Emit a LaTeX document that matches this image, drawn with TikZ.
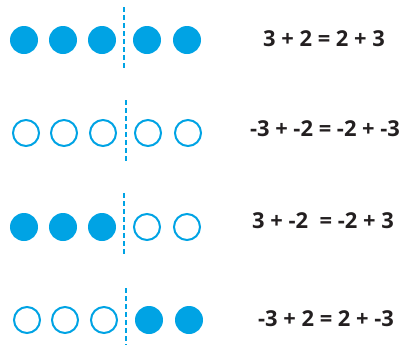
\documentclass[tikz,border=0pt]{standalone}
\usepackage{fontspec}
\setmainfont{Open Sans}
\definecolor{dotblue}{RGB}{0,163,228}
\definecolor{ink}{RGB}{35,31,32}
\tikzset{
  dot/.style={circle,fill=dotblue,minimum size=28bp,inner sep=0pt},
  ring/.style={circle,draw=dotblue,line width=2bp,minimum size=26bp,inner sep=0pt},
  split/.style={draw=dotblue,line width=2bp,dash pattern=on 5bp off 3bp},
  sum/.style={text=ink,font=\bfseries\fontsize{22}{24}\selectfont}
}
\begin{document}
\begin{tikzpicture}[x=1bp,y=-1bp]
\useasboundingbox (0,0) rectangle (405,348);

% row 1
\node[dot] (a1) at (24,40) {};
\node[dot] (a2) at (63,40) {};
\node[dot] (a3) at (102,40) {};
\node[dot] (a4) at (147,40) {};
\node[dot] (a5) at (187,40) {};
\coordinate (at) at (124,7);
\coordinate (ab) at (124,70);
\draw[split] (at) -- (ab);
\node[sum] (eqa) at (324,39) {3 + 2 = 2 + 3};

% row 2
\node[ring] (b1) at (26,133) {};
\node[ring] (b2) at (64,133) {};
\node[ring] (b3) at (103,133) {};
\node[ring] (b4) at (148,133) {};
\node[ring] (b5) at (188,133) {};
\coordinate (bt) at (126,100);
\coordinate (bb) at (126,163);
\draw[split] (bt) -- (bb);
\node[sum] (eqb) at (325,129) {-3 + -2 = -2 + -3};

% row 3
\node[dot] (c1) at (24,227) {};
\node[dot] (c2) at (63,227) {};
\node[dot] (c3) at (102,227) {};
\node[ring] (c4) at (147,227) {};
\node[ring] (c5) at (187,227) {};
\coordinate (ct) at (124,193);
\coordinate (cb) at (124,257);
\draw[split] (ct) -- (cb);
\node[sum] (eqc) at (323,221) {3 + -2 \ = -2 + 3};

% row 4
\node[ring] (d1) at (27,320) {};
\node[ring] (d2) at (65,320) {};
\node[ring] (d3) at (104,320) {};
\node[dot] (d4) at (149,320) {};
\node[dot] (d5) at (189,320) {};
\coordinate (dt) at (126,288);
\coordinate (db) at (126,345);
\draw[split] (dt) -- (db);
\node[sum] (eqd) at (326,319) {-3 + 2 = 2 + -3};
\end{tikzpicture}
\end{document}
